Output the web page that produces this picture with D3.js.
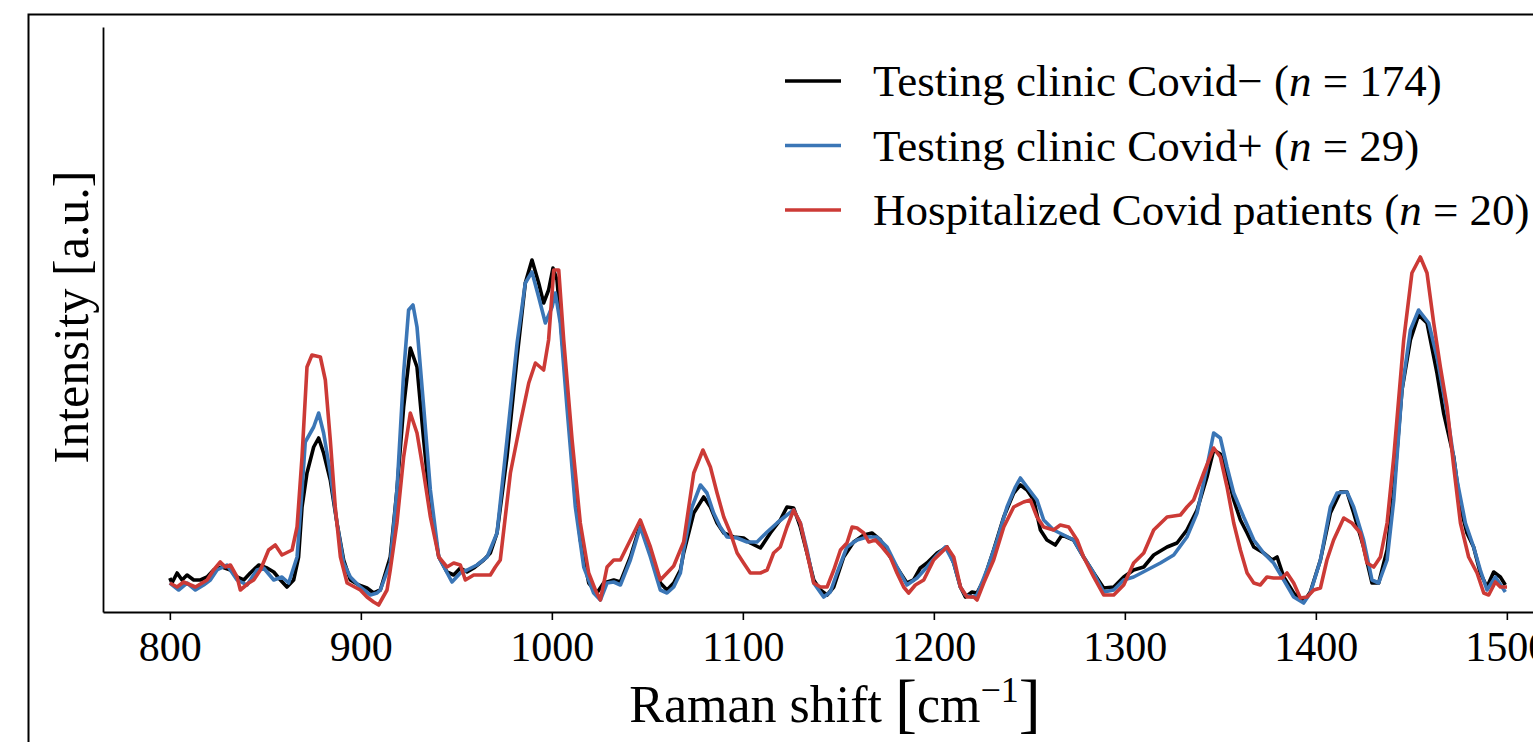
<!DOCTYPE html>
<html>
<head>
<meta charset="utf-8">
<script src="https://cdn.jsdelivr.net/npm/d3@7"></script>
<style>
    body { margin: 0; background: #fff; }
    svg { display: block; font-family: "Liberation Serif", "DejaVu Serif", serif; }
</style>
</head>
<body>
<svg id="chart" width="1533" height="742"></svg>
<script>
// Raman shift ticks [cm^-1]
var shiftTicks = [800, 900, 1000, 1100, 1200, 1300, 1400, 1500];

var seriesLabels = [
    {text: "Testing clinic Covid\u2212 (", n: "174"},
    {text: "Testing clinic Covid+ (", n: "29"},
    {text: "Hospitalized Covid patients (", n: "20"}
];
var seriesColors = ["#000000", "#3b76b6", "#cc3a36"];

// mean spectra, [shift, intensity a.u.]
var covidNeg = [
    [800,3.4],[801.1,2.9],[803.8,3.9],[806.4,3.2],[809,3.7],[812.5,3.2],[816,3.2],[819.5,3.5],[822.9,4.2],[827.3,4.5],
    [831.7,4.2],[835.2,3.5],[838.7,3.2],[842.1,3.9],[846.5,4.7],[850.9,4.4],[854.4,4.0],[857.9,3.2],[861.3,2.5],[864.8,3.2],
    [867.4,5.5],[869.2,10.5],[871.8,13.9],[875.3,16.5],[877.9,17.4],[880.5,15.9],[884,13.2],[887.5,8.9],[891,5.2],[894.5,3.2],
    [898.9,2.7],[903.2,2.4],[906.7,1.9],[910.2,2.2],[915.4,5.5],[918.9,12.2],[922.4,20.5],[925.9,26.4],[929.4,24.5],[932.9,17.2],
    [936.4,10.5],[940.8,5.5],[945.1,4.0],[948.6,3.7],[952.1,4.4],[955.6,4.0],[959.1,4.4],[964.3,5.2],[967.8,5.9],[971.3,7.9],
    [976.5,15.5],[981.8,25.5],[986.1,32.9],[989.6,35.2],[993.1,32.9],[995.7,30.9],[998.3,32.2],[1000.6,34.4],[1002.7,33.2],[1006.2,25.5],
    [1010.6,15.5],[1014.9,7.2],[1019.3,2.9],[1023.6,1.9],[1027.1,2.9],[1032.4,3.2],[1035.9,3.0],[1041.1,5.5],[1046.3,8.7],[1051.6,6.2],
    [1056.8,2.9],[1060.3,2.2],[1063.8,2.9],[1067.3,4.2],[1069,5.9],[1074.3,9.9],[1079.5,11.5],[1083,10.5],[1086.5,8.9],[1090,7.9],
    [1095.2,7.5],[1100.4,7.4],[1103.9,6.9],[1109.2,6.4],[1114.4,7.9],[1119.6,9.2],[1123.1,10.5],[1126.6,10.4],[1130.1,8.5],[1133.6,5.9],
    [1137.1,3.2],[1140.6,2.2],[1144.1,1.7],[1147.6,2.5],[1152.8,5.5],[1158,7.0],[1163.3,7.7],[1167.6,7.9],[1172,7.2],[1177.2,5.5],
    [1182.5,3.9],[1185.9,2.9],[1189.4,3.2],[1192.9,4.4],[1196.4,4.9],[1201.7,5.9],[1206.9,6.5],[1210.4,4.9],[1213.9,2.5],[1216.5,1.5],
    [1220,2.0],[1222.6,1.9],[1226.1,3.2],[1231.3,6.2],[1236.6,9.5],[1241.8,11.9],[1245.3,12.7],[1248.8,12.2],[1252.3,11.2],[1255.8,8.2],
    [1259.2,7.2],[1263.6,6.7],[1267.1,7.7],[1273.2,7.2],[1278.4,5.5],[1283.7,3.9],[1288.9,2.4],[1294.2,2.5],[1299.4,3.5],[1304.6,4.2],
    [1309.9,4.5],[1315.1,5.7],[1322.1,6.5],[1327.3,6.9],[1332.5,8.2],[1337.8,10.2],[1343,13.5],[1346.5,16.2],[1350,15.8],[1353.5,13.9],
    [1357,11.2],[1360.5,9.2],[1364,7.9],[1367.5,6.5],[1372.7,5.9],[1377.1,5.2],[1379.7,5.5],[1383.2,3.5],[1388.4,1.9],[1393.6,1.0],
    [1397.1,2.0],[1402.4,5.2],[1407.6,9.9],[1412.8,12.0],[1416.3,12.0],[1419.8,9.9],[1425,6.5],[1429.4,2.9],[1432.9,2.9],[1437.3,6.2],
    [1440.8,12.2],[1445.1,22.2],[1449.5,27.2],[1453.8,29.7],[1458.2,28.9],[1463.4,23.9],[1466.9,19.9],[1472.2,15.5],[1475.7,10.5],[1479.1,7.9],
    [1482.6,6.5],[1486.1,3.9],[1489.6,2.5],[1493.1,4.0],[1496.6,3.5],[1499.2,2.7]
];

var covidPos = [
    [800,2.9],[804.6,2.2],[809,2.9],[813.4,2.2],[817.7,2.7],[821.2,3.2],[824.7,4.2],[829.9,4.7],[835.2,3.2],[840.4,2.7],
    [845.6,4.2],[849.1,4.4],[854.4,3.2],[858.7,3.5],[862.2,2.9],[866.6,5.5],[869.2,12.2],[870.9,17.0],[875.3,18.5],[877.9,19.9],
    [880.5,17.9],[884,13.9],[887.5,8.9],[891,4.9],[894.5,3.5],[899.7,2.5],[905,1.7],[908.5,1.9],[910.2,2.2],[915.4,4.9],
    [918.9,12.2],[922.4,23.9],[925,30.2],[927.3,30.7],[929.4,28.5],[932.9,20.5],[936.4,12.2],[940.8,5.5],[947.7,3.0],[952.1,3.9],
    [955.6,4.2],[960.8,4.7],[966.1,5.5],[971.3,7.9],[976.5,17.2],[981.8,26.9],[986.1,32.9],[989.6,34.0],[993.1,31.5],[996.6,28.9],
    [1000.1,30.5],[1001.8,31.9],[1004.4,28.9],[1007.9,20.5],[1012.3,10.5],[1016.7,4.5],[1021.9,1.9],[1025.4,1.2],[1028.9,2.9],[1032.4,3.0],
    [1035.9,2.7],[1041.1,5.2],[1046.3,8.5],[1051.6,5.5],[1056.8,2.2],[1060.3,1.9],[1063.8,2.5],[1067.3,3.9],[1069,6.2],[1073.4,10.5],
    [1077.8,12.7],[1081.2,11.9],[1084.7,9.9],[1088.2,8.5],[1091.7,7.5],[1097,7.4],[1102.2,7.0],[1107.4,7.0],[1112.7,8.0],[1117.9,8.9],
    [1123.1,9.7],[1126.6,10.2],[1130.1,8.9],[1133.6,6.2],[1137.1,2.9],[1142.3,1.5],[1145.8,2.0],[1149.3,3.9],[1154.5,6.5],[1159.8,7.2],
    [1165,7.5],[1170.2,7.5],[1175.5,6.5],[1180.7,4.5],[1185.9,2.7],[1191.2,3.4],[1196.4,4.5],[1201.7,5.7],[1206,6.5],[1210.4,4.9],
    [1213.9,2.5],[1216.5,1.7],[1220,1.5],[1222.6,1.7],[1227.8,4.2],[1233.1,7.2],[1238.3,10.5],[1242.7,12.5],[1245.3,13.4],[1248.8,12.5],
    [1254,11.2],[1257.5,9.2],[1262.7,8.2],[1268,7.7],[1273.2,7.2],[1278.4,5.5],[1283.7,3.9],[1288.9,2.0],[1294.2,2.2],[1299.4,3.2],
    [1304.6,3.5],[1311.6,4.2],[1318.6,4.9],[1325.6,5.7],[1332.5,7.5],[1337.8,9.9],[1343,14.5],[1346.5,17.9],[1350,17.4],[1353.5,14.5],
    [1357,11.9],[1362.2,9.5],[1367.5,7.2],[1372.7,5.9],[1377.9,4.9],[1383.2,3.2],[1388.4,1.5],[1393.6,0.9],[1397.1,1.9],[1402.4,5.2],
    [1407.6,10.5],[1411.1,11.9],[1416.3,12.0],[1419.8,10.5],[1425,7.2],[1429.4,3.2],[1432.9,2.9],[1437.3,5.2],[1440.8,11.2],[1445.1,22.2],
    [1449.5,28.2],[1453.8,30.2],[1459.1,28.9],[1463.4,25.5],[1468.7,19.9],[1473.9,13.2],[1478.3,8.9],[1482.6,6.5],[1486.1,4.2],[1489.6,2.2],
    [1494,3.5],[1499.2,2.0]
];

var hospitalized = [
    [800,2.9],[803.8,2.5],[807.2,3.0],[813.4,2.5],[819.5,3.2],[822.9,4.2],[826.4,5.0],[829.1,4.5],[831.7,4.7],[835.2,3.5],
    [836.9,2.2],[841.3,2.9],[843.9,3.2],[847.4,4.2],[851.7,6.2],[855.2,6.7],[858.7,5.7],[864,6.2],[866.6,8.5],[869.2,15.5],
    [871.8,24.5],[874.4,25.7],[878.8,25.5],[881.4,23.2],[884,17.2],[886.6,10.5],[889.3,5.5],[892.8,2.9],[899.7,2.2],[903.2,1.5],
    [906.7,1.0],[909.3,0.7],[913.7,2.2],[915.4,4.2],[918.9,8.9],[922.4,15.5],[925.9,19.9],[929.4,17.9],[932.9,13.9],[936.4,9.5],
    [940.8,5.5],[945.1,4.5],[948.6,4.9],[952.1,4.7],[954.7,3.2],[959.1,3.7],[967.8,3.7],[970.4,4.5],[973,5.2],[978.3,13.9],
    [983.5,18.9],[987.9,22.9],[991.4,24.9],[995.7,24.2],[998.3,27.2],[1001,34.2],[1003.6,34.2],[1006.2,27.2],[1010.6,17.2],[1014.9,8.9],
    [1019.3,3.9],[1022.8,2.2],[1025.4,1.2],[1028.9,4.5],[1032.4,5.2],[1035.9,5.2],[1041.1,7.2],[1046.3,9.2],[1051.6,6.5],[1056.8,3.2],
    [1060.3,3.9],[1063.8,4.6],[1069,7.0],[1074.3,13.9],[1079.1,16.2],[1083,14.5],[1086.5,11.9],[1090,9.5],[1093.5,7.9],[1097,5.9],
    [1100.4,4.9],[1103.9,3.9],[1109.2,3.9],[1112.7,4.2],[1116.1,5.9],[1119.6,6.5],[1123.1,8.5],[1126.6,10.2],[1130.1,8.9],[1133.6,5.9],
    [1137.1,2.9],[1140.6,2.5],[1144.1,2.5],[1147.6,4.2],[1151.1,6.2],[1154.5,6.9],[1157.2,8.5],[1159.8,8.4],[1163.3,7.9],[1165.9,7.0],
    [1169.4,7.2],[1172.9,6.5],[1177.2,5.5],[1180.7,3.9],[1184.2,2.5],[1186.8,1.9],[1190.3,2.7],[1194.7,3.2],[1199.9,5.2],[1206.9,6.5],
    [1210.4,5.5],[1213.9,2.5],[1217.4,1.5],[1220.9,1.5],[1222.6,1.2],[1226.1,2.9],[1231.3,5.2],[1236.6,8.5],[1241.8,10.5],[1247,11.0],
    [1250.5,11.2],[1254,9.5],[1257.5,8.5],[1262.7,8.2],[1266.2,8.7],[1270.6,8.5],[1275,7.2],[1278.4,5.5],[1283.7,3.5],[1288.9,1.7],
    [1294.2,1.7],[1299.4,2.7],[1304.6,4.9],[1309.9,5.9],[1315.1,8.2],[1322.1,9.5],[1329.1,9.7],[1332.5,10.5],[1336,11.2],[1341.3,13.9],
    [1346.5,16.4],[1350,15.5],[1353.5,12.5],[1357,8.9],[1360.5,6.2],[1364,3.9],[1367.5,2.9],[1370.9,2.7],[1374.4,3.5],[1377.9,3.4],
    [1382.3,3.4],[1384.9,3.9],[1388.4,2.9],[1391.9,1.4],[1395.4,1.5],[1398.9,2.2],[1402.4,2.4],[1405.8,5.2],[1409.3,7.2],[1414.6,9.4],
    [1418.9,8.9],[1423.3,7.9],[1426.8,4.9],[1430.3,4.5],[1433.8,5.5],[1437.3,8.9],[1440.8,15.5],[1446,27.2],[1450.3,33.9],[1454.7,35.5],
    [1458.2,33.9],[1461.7,28.9],[1465.2,24.5],[1468.7,20.5],[1472.2,14.5],[1475.7,8.9],[1480,5.5],[1484.4,3.9],[1487.9,1.9],[1490.5,1.7],
    [1494,3.0],[1496.6,2.5],[1500.1,2.5]
];

var allSeries = [covidNeg, covidPos, hospitalized];

var svg = d3.select("#chart");

// plot area (right spine falls outside the crop)
var plotLeft = 103, plotTop = 27, plotBottom = 612, pxPerUnit = 1.91;

var x = d3.scaleLinear()
    .domain([765, 1535])
    .range([plotLeft, plotLeft + 770 * pxPerUnit]);

var y = d3.scaleLinear()
    .domain([0, 58.5])
    .range([plotBottom, plotTop]);

// outer figure frame
svg.append("rect")
    .attr("x", 28.5)
    .attr("y", 14.5)
    .attr("width", 1600)
    .attr("height", 800)
    .attr("fill", "none")
    .attr("stroke", "#000")
    .attr("stroke-width", 2);

var line = d3.line()
    .x(d => x(d[0]))
    .y(d => y(d[1]));

svg.append("g")
    .selectAll("path")
    .data(allSeries)
    .enter()
    .append("path")
        .attr("d", line)
        .attr("fill", "none")
        .attr("stroke", (d, i) => seriesColors[i])
        .attr("stroke-width", 3.6)
        .attr("stroke-linejoin", "round");

var xAxis = g => g
    .attr("transform", `translate(0,${plotBottom})`)
    .call(d3.axisBottom(x).tickValues(shiftTicks).tickSize(8).tickSizeOuter(0).tickFormat(d3.format("d")))
    .attr("font-family", null)
    .attr("font-size", 42)
    .call(g => g.select(".domain").attr("stroke-width", 1.8))
    .call(g => g.selectAll(".tick line").attr("stroke-width", 1.6))
    .call(g => g.selectAll(".tick text").attr("fill", "#000").attr("y", 49).attr("dy", 0));

var yAxis = g => g
    .attr("transform", `translate(${plotLeft},0)`)
    .call(d3.axisLeft(y).tickValues([]).tickSizeOuter(0))
    .call(g => g.select(".domain").attr("stroke-width", 1.8));

svg.append("g").call(xAxis);
svg.append("g").call(yAxis);

// axis labels
var xLabel = svg.append("text")
    .attr("x", 835)
    .attr("y", 722)
    .attr("text-anchor", "middle")
    .attr("font-size", 52);
xLabel.append("tspan").text("Raman shift ");
xLabel.append("tspan").attr("font-size", 66).attr("dy", 3).text("[");
xLabel.append("tspan").attr("dy", -3).text("cm");
xLabel.append("tspan").attr("font-size", 36).attr("dy", -20).text("\u22121");
xLabel.append("tspan").attr("font-size", 66).attr("dy", 23).text("]");

svg.append("text")
    .attr("transform", "translate(88,317) rotate(-90)")
    .attr("text-anchor", "middle")
    .attr("font-size", 50)
    .text("Intensity [a.u.]");

// legend
var legend = svg.append("g")
    .selectAll("g")
    .data(seriesLabels)
    .enter()
    .append("g")
        .attr("transform", (d, i) => `translate(785,${81 + i * 64.5})`);

legend.append("line")
    .attr("x1", 0)
    .attr("x2", 56)
    .attr("stroke", (d, i) => seriesColors[i])
    .attr("stroke-width", 3.6);

var legendText = legend.append("text")
    .attr("x", 88)
    .attr("y", 15)
    .attr("font-size", 45);
legendText.append("tspan").text(d => d.text);
legendText.append("tspan").attr("font-style", "italic").text("n");
legendText.append("tspan").text(d => " = " + d.n + ")");
</script>
</body>
</html>
